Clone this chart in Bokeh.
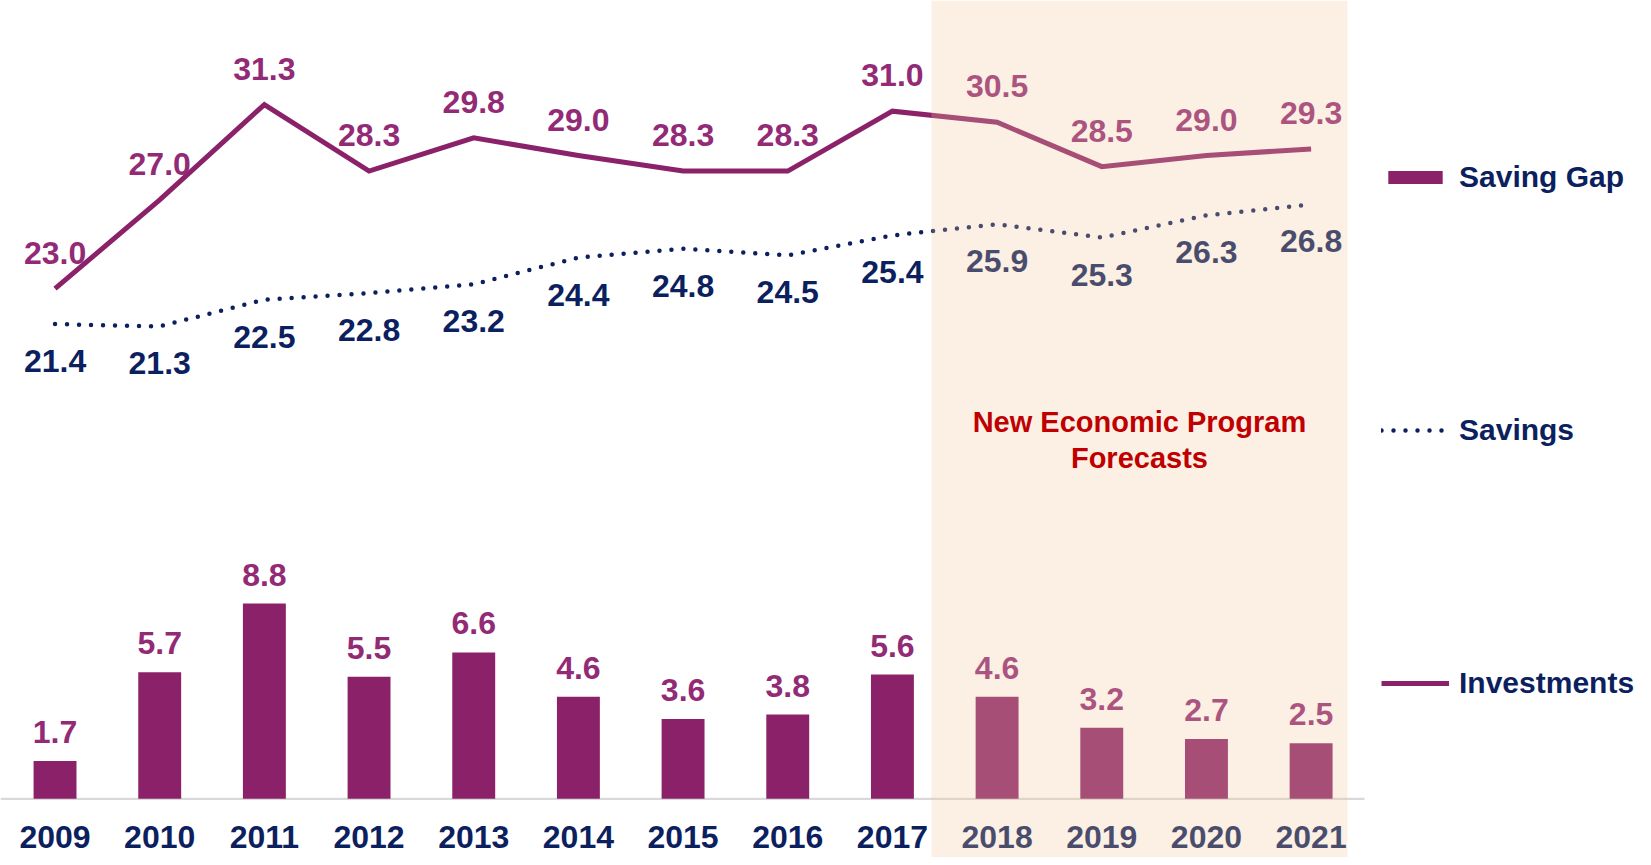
from bokeh.plotting import figure
from bokeh.models import (ColumnDataSource, Range1d, BoxAnnotation, Label,
                          Legend, LegendItem)
from bokeh.core.properties import value
from bokeh.embed import file_html
from bokeh.resources import INLINE

# ---------------- data ----------------
years = [2009, 2010, 2011, 2012, 2013, 2014, 2015, 2016, 2017, 2018, 2019, 2020, 2021]
investments = [23.0, 27.0, 31.3, 28.3, 29.8, 29.0, 28.3, 28.3, 31.0, 30.5, 28.5, 29.0, 29.3]
savings = [21.4, 21.3, 22.5, 22.8, 23.2, 24.4, 24.8, 24.5, 25.4, 25.9, 25.3, 26.3, 26.8]
saving_gap = [1.7, 5.7, 8.8, 5.5, 6.6, 4.6, 3.6, 3.8, 5.6, 4.6, 3.2, 2.7, 2.5]
forecast_start, forecast_end = 2018, 2021
forecast_text = ["New Economic Program", "Forecasts"]

# ---------------- styles ----------------
PURPLE = "#8b2269"
PURPLE_TXT = "#922a76"
NAVY = "#0c1f5e"
FONT_NAME = "Liberation Sans"
FONT = value(FONT_NAME)

src = ColumnDataSource(dict(
    x=years,
    inv=investments,
    sav=savings,
    gap=saving_gap,
    inv_lbl=[f"{v:.1f}" for v in investments],
    sav_lbl=[f"{v:.1f}" for v in savings],
    gap_lbl=[f"{v:.1f}" for v in saving_gap],
    yr_lbl=[str(y) for y in years],
    zero=[0] * len(years),
))

p = figure(width=1635, height=857, output_backend="svg", toolbar_location=None,
           x_axis_location=None, y_axis_location=None, title=None,
           x_range=Range1d(years[0] - 0.521, years[0] + 15.099),
           y_range=Range1d(-2.647, 35.99),
           min_border=0, min_border_left=0, min_border_right=0,
           min_border_top=0, min_border_bottom=0)
p.outline_line_color = None
p.xgrid.visible = False
p.ygrid.visible = False
p.background_fill_color = "white"
p.border_fill_color = "white"

# baseline (category axis line)
p.add_layout(BoxAnnotation(right=years[-1] + 0.51, bottom=-0.05, top=0.05,
                           fill_color="#d9d9d9", fill_alpha=1, line_color=None,
                           level="underlay"))

bars = p.vbar(x="x", top="gap", width=0.41, source=src, fill_color=PURPLE,
              line_color=None)
sav_r = p.line(x="x", y="sav", source=src, line_color=NAVY, line_width=4.5,
               line_dash="0 12", line_cap="round")
inv_r = p.line(x="x", y="inv", source=src, line_color=PURPLE, line_width=5,
               line_join="miter")

common = dict(text_font=FONT, text_font_style="bold", text_align="center",
              text_baseline="middle", source=src)
p.text(x="x", y="inv", text="inv_lbl", y_offset=-36, text_color=PURPLE_TXT,
       text_font_size="32px", **common)
p.text(x="x", y="sav", text="sav_lbl", y_offset=37, text_color=NAVY,
       text_font_size="32px", **common)
p.text(x="x", y="gap", text="gap_lbl", y_offset=-29, text_color=PURPLE_TXT,
       text_font_size="32px", **common)
p.text(x="x", y="zero", text="yr_lbl", y_offset=38, text_color=NAVY,
       text_font_size="32px", **common)

# forecast shading (semi-transparent overlay lightens what is beneath)
left = forecast_start - 0.627
right = forecast_end + 0.347
p.add_layout(BoxAnnotation(left=left, right=right, fill_color="#f4c89b",
                           fill_alpha=0.27, line_color=None))
mid = (left + right) / 2
p.add_layout(Label(x=mid, y=17.0, text=forecast_text[0], text_align="center",
                   text_baseline="middle", text_color="#c00000",
                   text_font=FONT_NAME, text_font_style="bold", text_font_size="29px"))
p.add_layout(Label(x=mid, y=15.38, text=forecast_text[1], text_align="center",
                   text_baseline="middle", text_color="#c00000",
                   text_font=FONT_NAME, text_font_style="bold", text_font_size="29px"))

legend = Legend(items=[
    LegendItem(label="Saving Gap", renderers=[bars]),
    LegendItem(label="Savings", renderers=[sav_r]),
    LegendItem(label="Investments", renderers=[inv_r]),
], location=(1381, 157), orientation="vertical",
    label_text_font=FONT_NAME, label_text_font_style="bold",
    label_text_font_size="30px", label_text_color=NAVY,
    glyph_width=68, glyph_height=16, label_standoff=10, label_height=16,
    spacing=219, padding=19, margin=0,
    border_line_color=None, background_fill_alpha=0)
p.add_layout(legend, "center")

open("out.html", "w").write(file_html(p, INLINE))
